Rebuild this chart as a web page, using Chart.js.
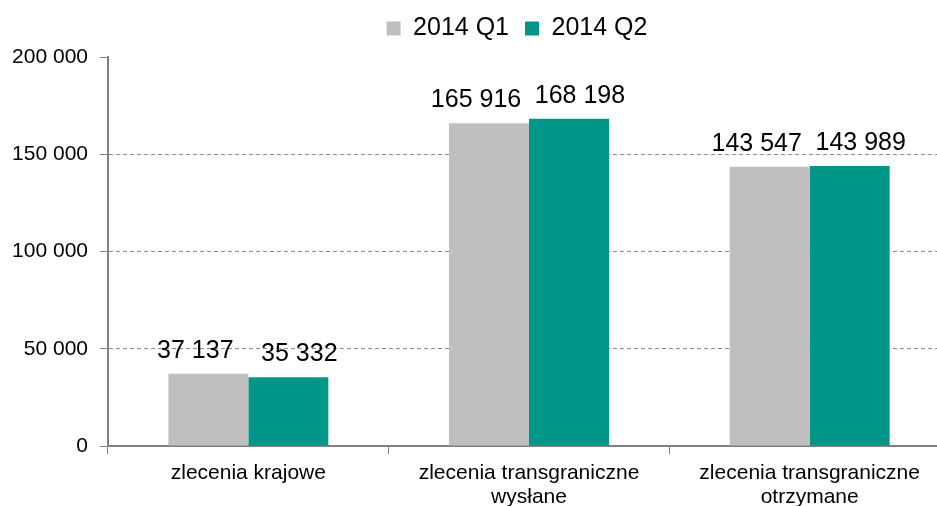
<!DOCTYPE html>
<html><head><meta charset="utf-8">
<script src="https://cdn.jsdelivr.net/npm/chart.js@4.4.1/dist/chart.umd.min.js"></script>
<style>
html,body{margin:0;padding:0;background:#fff;overflow:hidden;width:937px;height:506px}
#wrap{width:952px;height:506px;position:relative}
</style></head>
<body><div id="wrap"><canvas id="c" width="952" height="506"></canvas></div>
<script>
const categories = ['zlecenia krajowe', ['zlecenia transgraniczne', 'wysłane'], ['zlecenia transgraniczne', 'otrzymane']];
const seriesNames = ['2014 Q1', '2014 Q2'];
const q1Values = [37137, 165916, 143547];
const q2Values = [35332, 168198, 143989];
const yTicks = [0, 50000, 100000, 150000, 200000];

const FONT = '"Liberation Sans", Arial, sans-serif';
const fmt = v => String(v).replace(/\B(?=(\d{3})+(?!\d))/g, ' ');

const valueLabels = {
  id: 'valueLabels',
  afterDatasetsDraw(chart) {
    const ctx = chart.ctx;
    ctx.save();
    ctx.font = '25px ' + FONT;
    ctx.fillStyle = '#000';
    ctx.textAlign = 'center';
    ctx.textBaseline = 'alphabetic';
    const offs = [-13, 11];
    chart.data.datasets.forEach((ds, di) => {
      chart.getDatasetMeta(di).data.forEach((bar, i) => {
        ctx.fillText(fmt(ds.data[i]), bar.x + offs[di], bar.y - 16);
      });
    });
    ctx.restore();
  }
};
const legendShift = {
  id: 'legendShift',
  beforeInit(chart) {
    const l = chart.legend;
    if (l && !l._patched) {
      const fit = l.fit;
      l.fit = function () { fit.call(this); this.height += 6; };
      l._patched = true;
    }
  },
  afterLayout(chart) { const l = chart.legend; l.left += 42; l.right += 42; }
};

new Chart(document.getElementById('c'), {
  type: 'bar',
  data: {
    labels: categories,
    datasets: [
      { label: seriesNames[0], data: q1Values, backgroundColor: '#BFBFBF' },
      { label: seriesNames[1], data: q2Values, backgroundColor: '#009688' }
    ]
  },
  options: {
    responsive: false,
    devicePixelRatio: 1,
    animation: false,
    layout: { padding: { left: 0, right: 2, top: 0, bottom: 0 } },
    datasets: { bar: { categoryPercentage: 0.57, barPercentage: 1 } },
    plugins: {
      tooltip: { enabled: false },
      legend: {
        position: 'top',
        align: 'center',
        labels: {
          boxWidth: 14, boxHeight: 14, padding: 16,
          color: '#000',
          font: { family: FONT, size: 25 }
        }
      }
    },
    scales: {
      x: {
        afterFit(s) { s.height = 60; },
        grid: { display: true, drawOnChartArea: false, drawTicks: true, tickLength: 8, tickColor: '#808080', tickWidth: 1, offset: true },
        border: { display: true, color: '#808080', width: 2 },
        ticks: { color: '#000', font: { family: FONT, size: 21, lineHeight: 1.15 }, padding: 7, maxRotation: 0, autoSkip: false }
      },
      y: {
        min: 0, max: 200000,
        afterFit(s) { s.width = 108; },
        afterBuildTicks(axis) { axis.ticks = yTicks.map(v => ({ value: v })); },
        grid: {
          color: c => (c.tick && (c.tick.value === 0 || c.tick.value === 200000)) ? 'rgba(0,0,0,0)' : '#8c8c8c',
          lineWidth: 1,
          drawTicks: true, tickLength: 8, tickColor: '#808080', tickWidth: 1, tickBorderDash: []
        },
        border: { display: true, color: '#808080', width: 2, dash: [4, 3] },
        ticks: { color: '#000', font: { family: FONT, size: 21 }, padding: 12, callback: v => fmt(v) }
      }
    }
  },
  plugins: [valueLabels, legendShift]
});
</script>
</body></html>
